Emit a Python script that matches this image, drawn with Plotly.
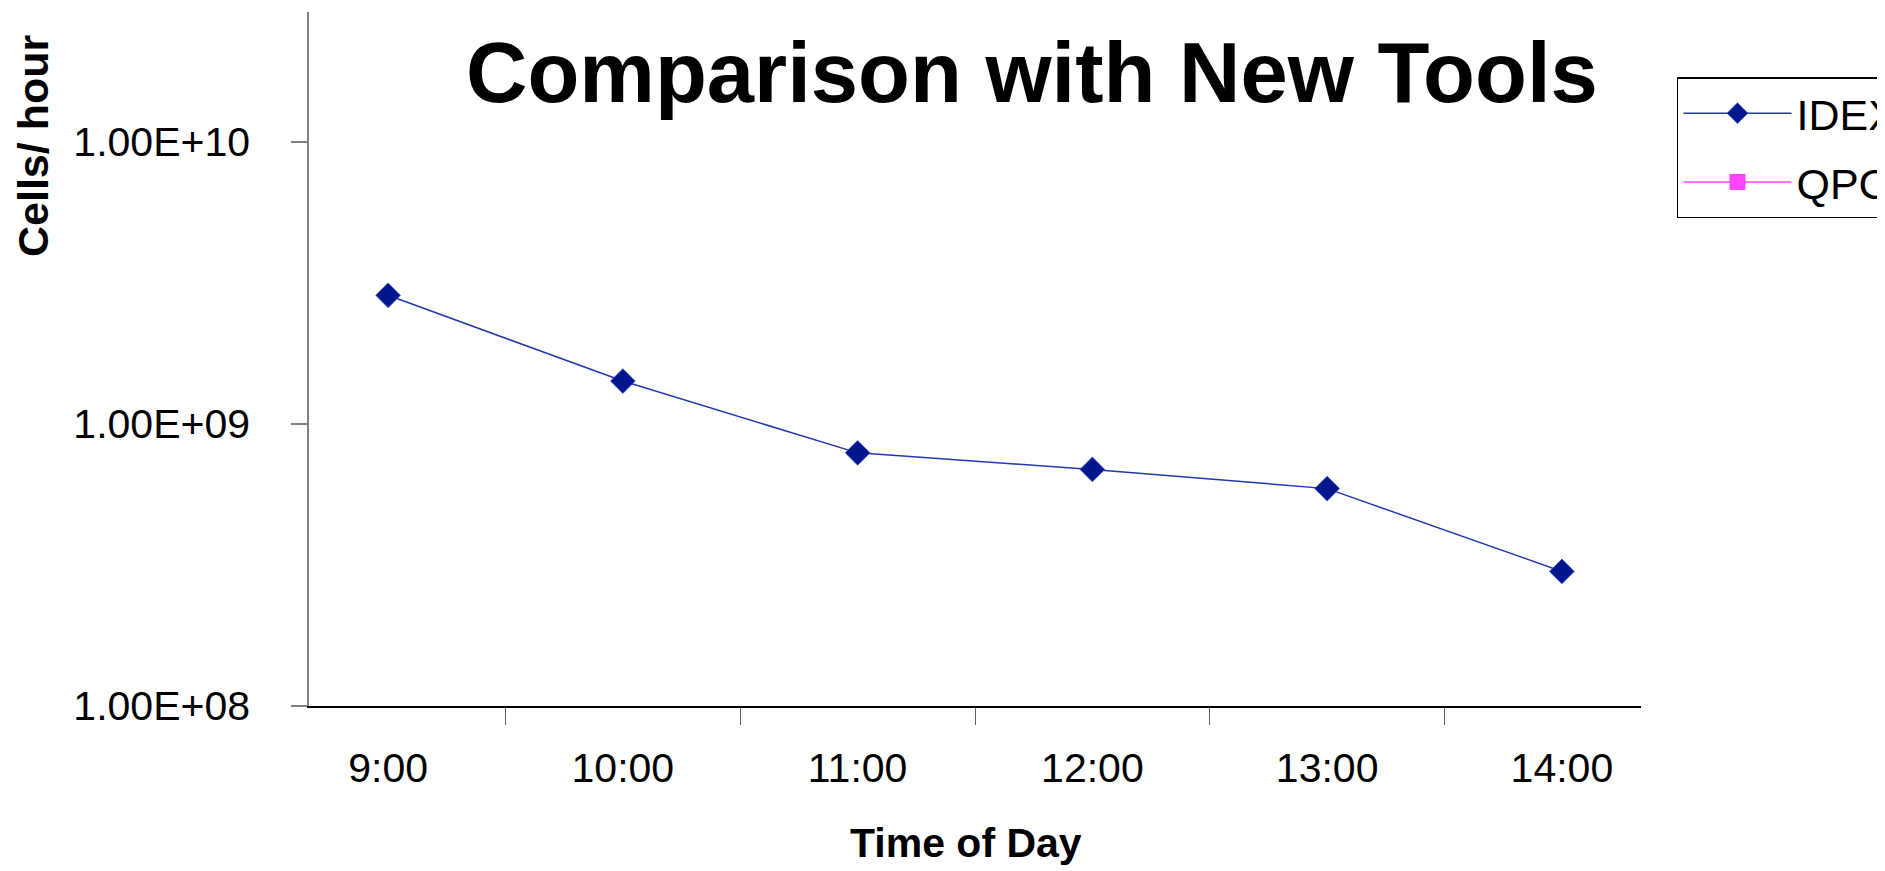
import plotly.graph_objects as go

categories = ["9:00", "10:00", "11:00", "12:00", "13:00", "14:00"]
idex_values = [2.86e9, 1.42e9, 7.9e8, 6.9e8, 5.9e8, 3.0e8]
qpc_values = [None, None, None, None, None, None]
y_tick_values = [1e8, 1e9, 1e10]
y_tick_labels = ["1.00E+08", "1.00E+09", "1.00E+10"]

FONT = "Liberation Sans, Arial, sans-serif"

# page body has an 8px default margin; figure is sized/placed to compensate
W, H = 1877, 863
L, R, T, B = 301, 244, 4, 165

fig = go.Figure()
fig.add_trace(go.Scatter(
    x=categories, y=idex_values, name="IDEX", mode="lines+markers",
    line=dict(color="#2536b0", width=1.5),
    marker=dict(symbol="diamond", size=19, color="#00168c",
                line=dict(color="#3b4fc8", width=0.8)),
    legendgroup="a",
))
fig.add_trace(go.Scatter(
    x=categories, y=qpc_values, name="QPC", mode="lines+markers",
    line=dict(color="#ff44ff", width=1.5),
    marker=dict(symbol="square", size=20, color="#ff44ff"),
    legendgroup="b",
))

fig.update_layout(
    width=W, height=H,
    margin=dict(l=L, r=R, t=T, b=B, autoexpand=False),
    paper_bgcolor="white", plot_bgcolor="white",
    font=dict(family=FONT, color="black", size=41),
    showlegend=True,
    legend=dict(
        x=1.027, xanchor="left", y=0.906, yanchor="top",
        bgcolor="white", bordercolor="black", borderwidth=1.5,
        font=dict(size=43, family=FONT), itemwidth=108,
        tracegroupgap=10,
    ),
    xaxis=dict(
        type="category", showgrid=False, zeroline=False,
        showline=True, linecolor="black", linewidth=2,
        ticks="outside", tickson="boundaries", ticklen=17,
        tickcolor="#606060", tickwidth=1.2,
        ticklabelstandoff=25,
        tickfont=dict(size=41, family=FONT),
    ),
    yaxis=dict(
        type="log", range=[8, 10.461], showgrid=False, zeroline=False,
        showline=True, linecolor="#808080", linewidth=1.5,
        ticks="outside", ticklen=16, tickcolor="#808080", tickwidth=1.5,
        tickvals=y_tick_values, ticktext=y_tick_labels,
        ticklabelstandoff=33,
        tickfont=dict(size=41, family=FONT),
    ),
    annotations=[
        dict(text="<b>Comparison with New Tools</b>", xref="paper", yref="paper",
             x=0.5428, y=0.9135, xanchor="center", yanchor="middle",
             showarrow=False, font=dict(size=85, family=FONT)),
        dict(text="<b>Cells/ hour</b>", xref="paper", yref="paper",
             x=-0.2072, y=0.8069, xanchor="center", yanchor="middle",
             textangle=-90, showarrow=False, font=dict(size=43, family=FONT)),
        dict(text="<b>Time of Day</b>", xref="paper", yref="paper",
             x=0.4932, y=-0.1974, xanchor="center", yanchor="middle",
             showarrow=False, font=dict(size=41, family=FONT)),
    ],
)

fig.write_html("out.html")
